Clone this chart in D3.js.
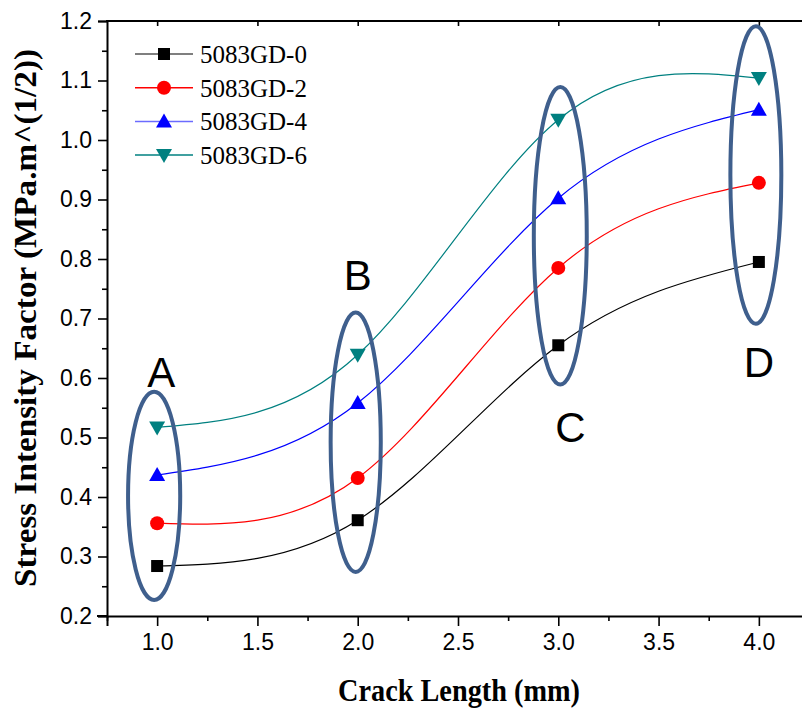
<!DOCTYPE html>
<html><head><meta charset="utf-8">
<script src="https://cdn.jsdelivr.net/npm/d3@7"></script>
<style>html,body{margin:0;padding:0;background:#fff;overflow:hidden}</style>
</head><body>
<svg id="chart" width="802" height="713"></svg>
<script>
const crackLength = [1.0, 2.0, 3.0, 4.0];
const seriesNames = ["5083GD-0", "5083GD-2", "5083GD-4", "5083GD-6"];
const gd0 = [0.284, 0.361, 0.655, 0.795];
const gd2 = [0.356, 0.432, 0.785, 0.928];
const gd4 = [0.437, 0.558, 0.902, 1.051];
const gd6 = [0.517, 0.639, 1.034, 1.104];
const seriesColors = ["#000000", "#ff0000", "#0000ff", "#008080"];
const legendLineColors = ["#555555", "#ff0000", "#6b6bff", "#008080"];
const markerShapes = ["square", "circle", "triangle", "triangleDown"];
const xTicks = [1.0, 1.5, 2.0, 2.5, 3.0, 3.5, 4.0];
const yTicks = [0.2, 0.3, 0.4, 0.5, 0.6, 0.7, 0.8, 0.9, 1.0, 1.1, 1.2];
// group annotations: label, ellipse centre (data units) and radii (data units)
const groupLabels = ["A", "B", "C", "D"];
const groupCx = [0.985, 1.99, 3.01, 3.985];
const groupCy = [0.402, 0.492, 0.839, 0.941];
const groupRx = [0.13, 0.125, 0.132, 0.127];
const groupRy = [0.175, 0.218, 0.25, 0.25];
const labelX = [1.02, 2.0, 3.06, 4.0];
const labelY = [0.585, 0.748, 0.493, 0.602];

const allSeries = [gd0, gd2, gd4, gd6];
const svg = d3.select("#chart");
const L = 107, R = 809, T = 21, B = 616;
const x = d3.scaleLinear().domain([0.75, 4.25]).range([L, R]);
const y = d3.scaleLinear().domain([0.2, 1.2]).range([B, T]);

svg.append("defs").append("clipPath").attr("id", "clip")
  .append("rect").attr("x", L).attr("y", T).attr("width", R - L).attr("height", B - T);

// axes
const xAxis = d3.axisBottom(x).tickValues(xTicks).tickFormat(d3.format(".1f")).tickSize(10).tickPadding(8);
const xMinor = d3.axisBottom(x).tickValues(d3.range(0.75, 4.26, 0.5)).tickFormat("").tickSize(5);
const yAxis = d3.axisLeft(y).tickValues(yTicks).tickFormat(d3.format(".1f")).tickSize(9).tickPadding(6);
const yMinor = d3.axisLeft(y).tickValues(d3.range(0.25, 1.2, 0.1)).tickFormat("").tickSize(5);
const topTicks = d3.axisBottom(x).tickValues(xTicks).tickFormat("").tickSize(5);

function styleAxis(g) {
  g.select(".domain").attr("stroke", "#000").attr("stroke-width", 2);
  g.selectAll(".tick line").attr("stroke", "#000").attr("stroke-width", 1.6);
  g.selectAll(".tick text").attr("font-family", "Liberation Sans, Arial, sans-serif").attr("font-size", 23).attr("fill", "#000");
}
svg.append("g").attr("transform", `translate(0,${B})`).call(xMinor).call(styleAxis).select(".domain").remove();
svg.append("g").attr("transform", `translate(0,${B})`).call(xAxis).call(styleAxis);
svg.append("g").attr("transform", `translate(${L},0)`).call(yMinor).call(styleAxis).select(".domain").remove();
svg.append("g").attr("transform", `translate(${L},0)`).call(yAxis).call(styleAxis);
const tg = svg.append("g").attr("transform", `translate(0,${T})`).call(topTicks).call(styleAxis);
tg.select(".domain").remove();
svg.append("line").attr("x1", L - 1).attr("x2", 802).attr("y1", T).attr("y2", T).attr("stroke", "#000").attr("stroke-width", 2);
svg.append("line").attr("x1", 97).attr("x2", L).attr("y1", B).attr("y2", B).attr("stroke", "#000").attr("stroke-width", 2);

// axis titles
svg.append("text").attr("x", 459).attr("y", 701).attr("text-anchor", "middle")
  .attr("font-family", "Liberation Serif, Times New Roman, serif").attr("font-weight", "bold").attr("font-size", 31)
  .attr("textLength", 242).attr("lengthAdjust", "spacingAndGlyphs")
  .text("Crack Length (mm)");
svg.append("text").attr("transform", "translate(36,318) rotate(-90)").attr("text-anchor", "middle")
  .attr("font-family", "Liberation Serif, Times New Roman, serif").attr("font-weight", "bold").attr("font-size", 31)
  .attr("textLength", 538).attr("lengthAdjust", "spacingAndGlyphs")
  .text("Stress Intensity Factor (MPa.m^(1/2))");

// curves
const plot = svg.append("g").attr("clip-path", "url(#clip)");
const line = d3.line().x((d, i) => x(crackLength[i])).y(d => y(d)).curve(d3.curveNatural);
allSeries.forEach((s, k) => {
  plot.append("path").datum(s).attr("d", line).attr("fill", "none")
    .attr("stroke", seriesColors[k]).attr("stroke-width", 1.2);
});

// ellipses
groupLabels.forEach((g, i) => {
  svg.append("ellipse")
    .attr("cx", x(groupCx[i])).attr("cy", y(groupCy[i]))
    .attr("rx", x(groupCx[i] + groupRx[i]) - x(groupCx[i]))
    .attr("ry", y(groupCy[i]) - y(groupCy[i] + groupRy[i]))
    .attr("fill", "none").attr("stroke", "#3f5f8d").attr("stroke-width", 4);
  svg.append("text").attr("x", x(labelX[i])).attr("y", y(labelY[i])).attr("text-anchor", "middle")
    .attr("font-family", "Liberation Sans, Arial, sans-serif").attr("font-size", 42).text(g);
});

// markers
function drawMarker(g, shape, cx, cy, color) {
  if (shape === "square") {
    g.append("rect").attr("x", cx - 6).attr("y", cy - 6).attr("width", 12).attr("height", 12).attr("fill", color);
  } else if (shape === "circle") {
    g.append("circle").attr("cx", cx).attr("cy", cy).attr("r", 7).attr("fill", color);
  } else if (shape === "triangle") {
    g.append("path").attr("d", `M${cx},${cy - 8}L${cx + 8},${cy + 6}L${cx - 8},${cy + 6}Z`).attr("fill", color);
  } else {
    g.append("path").attr("d", `M${cx},${cy + 8}L${cx + 8},${cy - 6}L${cx - 8},${cy - 6}Z`).attr("fill", color);
  }
}
const mg = svg.append("g");
allSeries.forEach((s, k) => {
  s.forEach((v, i) => drawMarker(mg, markerShapes[k], x(crackLength[i]), y(v), seriesColors[k]));
});

// legend
const lg = svg.append("g");
seriesNames.forEach((n, k) => {
  const ly = 54 + k * 33.7;
  lg.append("line").attr("x1", 135).attr("x2", 193).attr("y1", ly).attr("y2", ly)
    .attr("stroke", legendLineColors[k]).attr("stroke-width", 1.5);
  drawMarker(lg, markerShapes[k], 164, ly, seriesColors[k]);
  lg.append("text").attr("x", 200).attr("y", ly + 9).attr("font-family", "Liberation Serif, Times New Roman, serif")
    .attr("font-size", 25).text(n);
});
</script>
</body></html>
